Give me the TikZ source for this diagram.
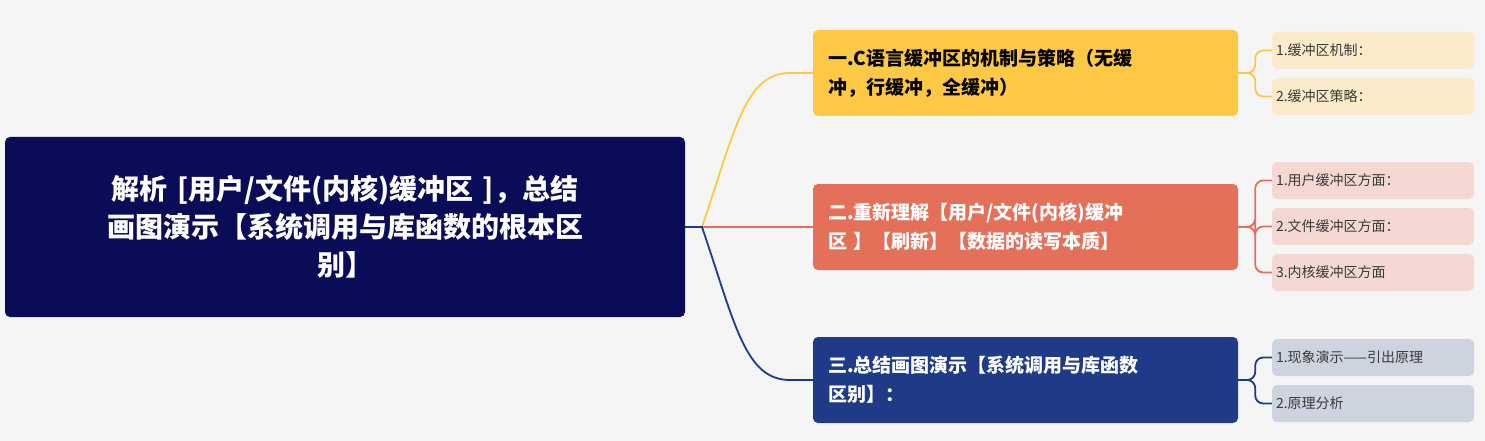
\documentclass[tikz,border=0pt]{standalone}
\usepackage{fontspec}
\setmainfont{Noto Sans CJK SC}
\begin{document}
\begin{tikzpicture}[x=1pt,y=-1pt,
  root/.style={fill=rootc,rounded corners=5pt,minimum width=680pt,minimum height=180pt,text width=640pt,align=center,text=white,font=\fontsize{28}{38}\selectfont\bfseries,inner sep=0pt},
  br/.style={rounded corners=5pt,minimum width=425pt,minimum height=86pt,text width=395pt,align=left,font=\fontsize{19}{29}\selectfont\bfseries,inner sep=0pt},
  leaf/.style={rounded corners=5pt,minimum width=202pt,minimum height=37pt,text width=194pt,align=left,font=\fontsize{14}{16}\selectfont,text=leaftext,inner sep=0pt},
  con/.style={line width=1.8pt}]
\definecolor{bg}{HTML}{F5F5F5}
\definecolor{rootc}{HTML}{0A0C57}
\definecolor{yc}{HTML}{FFC845}
\definecolor{rc}{HTML}{E5705A}
\definecolor{bc}{HTML}{1F3A87}
\definecolor{yl}{HTML}{FBEBCB}
\definecolor{rl}{HTML}{F5D8D3}
\definecolor{bl}{HTML}{CED3E0}
\definecolor{leaftext}{HTML}{3A3A3A}
\fill[bg] (0,0) rectangle (1485,441);
\useasboundingbox (0,0) rectangle (1485,441);
\node[root] (r) at (345,227) {解析 [用户/文件(内核)缓冲区 ]，总结\\画图演示【系统调用与库函数的根本区\\别】};
\node[br,fill=yc,text=black] (b1) at (1025.5,73) {一.C语言缓冲区的机制与策略（无缓\\冲，行缓冲，全缓冲）};
\node[br,fill=rc,text=white] (b2) at (1025.5,227) {二.重新理解【用户/文件(内核)缓冲\\区 】【刷新】【数据的读写本质】};
\node[br,fill=bc,text=white] (b3) at (1025.5,380) {三.总结画图演示【系统调用与库函数\\区别】：};
\node[leaf,fill=yl] (l1) at (1373,50.5) {1.缓冲区机制：};
\node[leaf,fill=yl] (l2) at (1373,96.5) {2.缓冲区策略：};
\node[leaf,fill=rl] (l3) at (1373,180.5) {1.用户缓冲区方面：};
\node[leaf,fill=rl] (l4) at (1373,226.5) {2.文件缓冲区方面：};
\node[leaf,fill=rl] (l5) at (1373,272.5) {3.内核缓冲区方面};
\node[leaf,fill=bl] (l6) at (1373,357.5) {1.现象演示——引出原理};
\node[leaf,fill=bl] (l7) at (1373,403.5) {2.原理分析};
\coordinate (j) at (702,227);
\draw[con,rc] (r.east) -- (b2.west);
\draw[con,yc] (j) .. controls (735,130) and (745,73) .. (790,73) -- (b1.west);
\draw[con,bc] (r.east) -- (j) .. controls (735,324) and (745,380) .. (790,380) -- (b3.west);
\foreach \b/\l/\c in {b1/l1/yc,b1/l2/yc,b2/l3/rc,b2/l4/rc,b2/l5/rc,b3/l6/bc,b3/l7/bc}
  \draw[con,\c,rounded corners=8pt] (\b.east) -- ++(17,0) |- (\l.west);
\end{tikzpicture}
\end{document}
